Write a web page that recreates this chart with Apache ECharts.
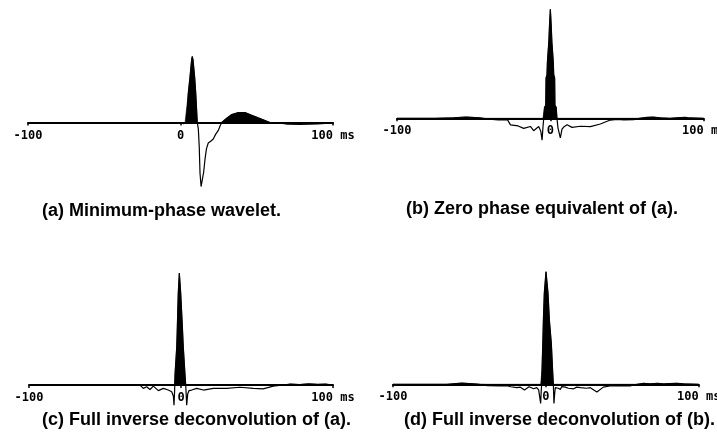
<!DOCTYPE html>
<html>
<head>
<meta charset="utf-8">
<script src="https://cdn.jsdelivr.net/npm/echarts@6/dist/echarts.min.js"></script>
<style>
html,body{margin:0;padding:0;background:#fff;}
#chart{width:717px;height:441px;}
</style>
</head>
<body>
<div id="chart"></div>
<script>
// ---- Data (time in ms, amplitude normalised to each panel's main peak) ----
var xTicks = [-100, 0, 100];
var xUnit = 'ms';

var captions = [
  '(a) Minimum-phase wavelet.',
  '(b) Zero phase equivalent of (a).',
  '(c) Full inverse deconvolution of (a).',
  '(d) Full inverse deconvolution of (b).'
];

// (a) minimum-phase wavelet
var tA = [-100, -2, 0, 1, 2, 3, 4.1, 5.1, 6.2, 7.3, 7.7, 8.2, 9.3, 10.0, 11.0, 11.7, 12.3, 12.8, 13.5, 14.0, 14.5, 15.2, 16.1, 17.0, 18.2, 20.0, 21.5, 23.0, 24.8, 26.0, 27.0, 30.3, 33.6, 37.9, 42.3, 46.7, 51.0, 55.4, 58.7, 62, 66, 70, 78, 85, 90, 95, 100];
var vA = [0, 0, 0, 0.03, -0.02, 0, 0, 0.44, 0.68, 0.95, 1.0, 0.95, 0.68, 0.44, 0, -0.1, -0.37, -0.77, -0.97, -1.0, -0.96, -0.75, -0.55, -0.4, -0.31, -0.28, -0.25, -0.18, -0.12, -0.05, 0, 0.065, 0.12, 0.15, 0.15, 0.11, 0.07, 0.03, 0, 0, -0.01, -0.025, -0.03, -0.025, -0.02, -0.015, 0];

// (b) zero-phase equivalent
var tB = [-100, -75, -63, -55, -46, -40, -34, -28, -26, -21, -17.4, -13, -10.9, -7.6, -6.2, -5.4, -4.8, -4.3, -3.8, -3.0, -2.8, -2.2, -1.9, -1.0, -0.5, 0, 0.5, 1.0, 1.9, 2.2, 2.8, 3.0, 3.8, 4.3, 5.0, 6.5, 7.6, 8.7, 10.9, 14.1, 19.6, 26.1, 32.6, 39.1, 43.5, 48, 54.4, 58, 63, 67, 71.7, 78, 84.6, 88, 91, 100];
var vB = [0, 0, 0.005, 0.012, 0.004, -0.008, -0.014, -0.012, -0.06, -0.07, -0.092, -0.075, -0.114, -0.075, -0.12, -0.2, -0.08, 0, 0.1, 0.12, 0.37, 0.4, 0.52, 0.7, 0.87, 1.0, 0.87, 0.7, 0.52, 0.4, 0.37, 0.12, 0.1, 0, -0.09, -0.18, -0.1, -0.08, -0.06, -0.083, -0.073, -0.077, -0.052, -0.016, -0.01, -0.014, -0.012, 0, 0.008, 0.01, 0.004, 0, 0.006, 0.008, 0.003, 0];

// (c) full inverse deconvolution of (a)
var tC = [-100, -27, -24.8, -22.6, -20.4, -18.2, -14.9, -11.6, -8.4, -6.1, -5.0, -4.6, -4.2, -3.9, -2.8, -2.4, -1.8, -1.1, -0.2, 0.9, 1.5, 2.6, 3.1, 3.75, 4.4, 5.3, 7, 10.3, 14.7, 21.3, 30, 38.8, 47.6, 54, 60.7, 67.3, 72, 78, 84, 90, 95, 100];
var vC = [0, 0, -0.03, -0.015, -0.04, -0.01, -0.05, -0.03, -0.045, -0.06, -0.1, -0.18, -0.05, 0.1, 0.34, 0.52, 0.82, 1.0, 0.82, 0.52, 0.34, 0.1, 0, -0.18, -0.08, -0.05, -0.045, -0.03, -0.045, -0.03, -0.03, -0.02, -0.03, -0.035, -0.01, 0, 0.008, 0.004, 0.01, 0.005, 0.008, 0];

// (d) full inverse deconvolution of (b)
var tD = [-100, -64.7, -55, -45, -38, -30, -25.4, -23, -18.9, -16.9, -14, -11, -8, -6, -4.7, -3.4, -3.0, -2.7, -2.5, -2.0, -1.6, -1.0, 0.1, 1.4, 2.3, 3.6, 4.4, 4.9, 5.3, 5.8, 6.2, 8.1, 9.5, 10.4, 12.7, 14.7, 18.2, 20.2, 22.6, 26.7, 29.1, 33.4, 37.6, 42, 44.4, 48.5, 55, 59.6, 64, 68.3, 73, 77.1, 81, 85.8, 90, 100];
var vD = [0, 0, 0.01, 0.002, -0.012, -0.015, -0.012, -0.022, -0.03, -0.025, -0.05, -0.022, -0.04, -0.03, -0.05, -0.17, -0.05, 0, 0.13, 0.36, 0.57, 0.81, 1.0, 0.81, 0.57, 0.36, 0.13, 0, -0.17, -0.08, -0.03, -0.035, -0.045, -0.02, -0.025, -0.035, -0.04, -0.025, -0.03, -0.035, -0.03, -0.068, -0.025, -0.015, -0.015, -0.014, -0.015, 0, 0.008, 0.004, 0.008, 0.003, 0.007, 0.009, 0.004, 0];

// ---- Layout: grid bottom sits on the zero line; negative lobes draw below (clip off) ----
var panels = [
  {t: tA, v: vA, grid: {left: 28, right: 384, top: 43.3, height: 79.2}, yMax: 1.2,
   cap: {left: 42, top: 202}},
  {t: tB, v: vB, grid: {left: 397, right: 13.3, top: 3.85, height: 114.45}, yMax: 1.05,
   cap: {left: 406, top: 200}},
  {t: tC, v: vC, grid: {left: 29, right: 384, top: 267.4, height: 117.6}, yMax: 1.05,
   cap: {left: 42, top: 411}},
  {t: tD, v: vD, grid: {left: 393, right: 18.3, top: 266.07, height: 118.23}, yMax: 1.05,
   cap: {left: 404, top: 411}}
];

function pairs(ts, vs) {
  return ts.map(function (t, i) { return [t, vs[i]]; });
}
// positive part of the trace, with exact zero crossings so the fill edges are clean
function positivePart(ts, vs) {
  var out = [];
  for (var i = 0; i < ts.length; i++) {
    if (i > 0) {
      var a = vs[i - 1], b = vs[i];
      if ((a > 0 && b < 0) || (a < 0 && b > 0)) {
        var tc = ts[i - 1] + (ts[i] - ts[i - 1]) * (a / (a - b));
        out.push([tc, 0]);
      }
    }
    out.push([ts[i], Math.max(0, vs[i])]);
  }
  return out;
}

var grids = [], xAxes = [], yAxes = [], series = [], titles = [];
var monoFont = 'DejaVu Sans Mono';
panels.forEach(function (p, k) {
  grids.push(Object.assign({containLabel: false, outerBoundsMode: 'none'}, p.grid));
  xAxes.push({
    type: 'value', gridIndex: k, min: xTicks[0], max: xTicks[2], interval: 100,
    position: 'bottom',
    axisLine: {onZero: false, lineStyle: {color: '#000', width: 2}},
    axisTick: {show: true, length: 3, lineStyle: {color: '#000', width: 1.5}},
    splitLine: {show: false},
    axisLabel: {
      color: '#000', fontFamily: monoFont, fontWeight: 'bold', fontSize: 12, margin: 7,
      formatter: function (v) { return v === xTicks[2] ? v + ' ' + xUnit : String(v); }
    }
  });
  yAxes.push({type: 'value', gridIndex: k, min: 0, max: p.yMax, show: false,
              splitLine: {show: false}});
  series.push({
    type: 'line', xAxisIndex: k, yAxisIndex: k, data: positivePart(p.t, p.v),
    symbol: 'none', silent: true, z: 2, clip: false,
    lineStyle: {color: '#000', width: 0.6},
    areaStyle: {color: '#000', opacity: 1, origin: 0}
  });
  series.push({
    type: 'line', xAxisIndex: k, yAxisIndex: k, data: pairs(p.t, p.v),
    symbol: 'none', silent: true, z: 3, clip: false,
    lineStyle: {color: '#000', width: 1.2}
  });
  titles.push({
    text: captions[k], left: p.cap.left, top: p.cap.top, padding: 0,
    textStyle: {fontFamily: 'Liberation Sans', fontWeight: 'bold', fontSize: 18, color: '#000'}
  });
});

var chart = echarts.init(document.getElementById('chart'), null, {renderer: 'canvas'});
chart.setOption({
  backgroundColor: '#fff',
  animation: false,
  title: titles,
  grid: grids,
  xAxis: xAxes,
  yAxis: yAxes,
  series: series
});
</script>
</body>
</html>
